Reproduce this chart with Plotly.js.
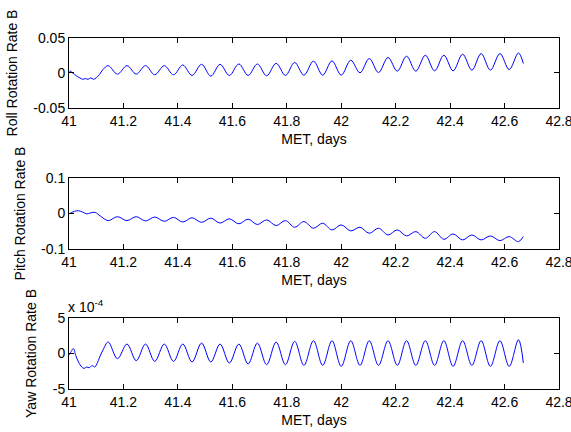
<!DOCTYPE html>
<html>
<head>
<meta charset="utf-8">
<script src="https://cdn.plot.ly/plotly-3.0.1.min.js"></script>
<style>html,body{margin:0;padding:0;background:#fff;}#chart{width:571px;height:432px;}</style>
</head>
<body>
<div id="chart"></div>
<script>
// ---- Data (MET in days) ----
const xTicks = [41, 41.2, 41.4, 41.6, 41.8, 42, 42.2, 42.4, 42.6, 42.8];
const xTickLabels = ['41', '41.2', '41.4', '41.6', '41.8', '42', '42.2', '42.4', '42.6', '42.8'];

const rollT = [41.000, 41.005, 41.010, 41.020, 41.030, 41.040, 41.050, 41.060, 41.070, 41.080, 41.090, 41.100, 41.112, 41.125,
  41.144, 41.178, 41.213, 41.247, 41.281, 41.315, 41.350, 41.384, 41.418, 41.452, 41.487, 41.521, 41.555, 41.589,
  41.624, 41.658, 41.692, 41.726, 41.761, 41.795, 41.829, 41.863, 41.898, 41.932, 41.966, 42.000, 42.035, 42.069,
  42.103, 42.137, 42.172, 42.206, 42.240, 42.274, 42.309, 42.343, 42.377, 42.411, 42.446, 42.480, 42.514, 42.548,
  42.583, 42.617, 42.651, 42.669];
const rollV = [0.000, 0.003, 0.001, -0.002, -0.005, -0.007, -0.009, -0.008, -0.009, -0.007, -0.009, -0.007, -0.002, 0.005,
  0.0105, -0.0016, 0.0105, -0.0016, 0.0105, -0.0026, 0.0105, -0.0026, 0.0114, -0.0035, 0.0124, -0.0045, 0.0124, -0.0035,
  0.0129, -0.0035, 0.0129, -0.0040, 0.0138, -0.0035, 0.0150, -0.0031, 0.0169, -0.0031, 0.0173, -0.0031, 0.0182, 0.0003,
  0.0207, 0.0007, 0.0221, 0.0026, 0.0240, 0.0026, 0.0254, 0.0031, 0.0254, 0.0031, 0.0268, 0.0041, 0.0277, 0.0041,
  0.0277, 0.0050, 0.0286, 0.0135];

const pitchT = [41.000, 41.010, 41.020, 41.034, 41.050, 41.065, 41.080, 41.096, 41.115,
  41.144, 41.178, 41.213, 41.247, 41.281, 41.315, 41.350, 41.384, 41.418, 41.452, 41.487, 41.521, 41.555, 41.589,
  41.624, 41.658, 41.692, 41.726, 41.761, 41.795, 41.829, 41.863, 41.898, 41.932, 41.966, 42.000, 42.035, 42.069,
  42.103, 42.137, 42.172, 42.206, 42.240, 42.274, 42.309, 42.343, 42.377, 42.411, 42.446, 42.480, 42.514, 42.548,
  42.583, 42.617, 42.651, 42.669];
const pitchV = [-0.001, 0.003, 0.006, 0.008, 0.004, -0.001, 0.002, 0.003, -0.007,
  -0.020, -0.009, -0.020, -0.009, -0.021, -0.010, -0.022, -0.011, -0.024, -0.012, -0.025, -0.013, -0.027, -0.015,
  -0.029, -0.016, -0.031, -0.018, -0.034, -0.020, -0.0387, -0.0227, -0.0415, -0.0274, -0.0463, -0.0321, -0.049, -0.0387,
  -0.0557, -0.0415, -0.0604, -0.0463, -0.0632, -0.051, -0.0698, -0.051, -0.0727, -0.0576, -0.0745, -0.0604, -0.0745, -0.0632,
  -0.0764, -0.0651, -0.0793, -0.065];

// Yaw values in units of 1e-4
const yawT = [41.000, 41.008, 41.016, 41.025, 41.035, 41.047, 41.055, 41.065, 41.075, 41.085, 41.095, 41.102, 41.114, 41.125,
  41.144, 41.178, 41.213, 41.247, 41.281, 41.315, 41.350, 41.384, 41.418, 41.452, 41.487, 41.521, 41.555, 41.589,
  41.624, 41.658, 41.692, 41.726, 41.761, 41.795, 41.829, 41.863, 41.898, 41.932, 41.966, 42.000, 42.035, 42.069,
  42.103, 42.137, 42.172, 42.206, 42.240, 42.274, 42.309, 42.343, 42.377, 42.411, 42.446, 42.480, 42.514, 42.548,
  42.583, 42.617, 42.651, 42.669];
const yawV = [-0.2, 0.3, 0.7, -0.3, -1.2, -1.9, -2.1, -1.9, -2.0, -1.7, -1.9, -1.5, -0.4, 0.5,
  1.62, -0.73, 1.33, -1.01, 1.33, -1.11, 1.33, -1.11, 1.33, -1.20, 1.47, -1.20, 1.33, -1.34,
  1.33, -1.48, 1.47, -1.58, 1.62, -1.58, 1.71, -1.67, 1.80, -1.67, 1.80, -1.81, 1.80, -1.67,
  1.80, -1.67, 1.80, -1.67, 1.80, -1.67, 1.80, -1.67, 1.80, -1.81, 1.80, -1.67, 1.80, -1.81,
  1.80, -1.81, 1.94, -1.34];

const yTitles = ['Roll Rotation Rate B', 'Pitch Rotation Rate B', 'Yaw Rotation Rate B'];
const rollTicks = [-0.05, 0, 0.05], rollLabels = ['-0.05', '0', '0.05'];
const pitchTicks = [-0.1, 0, 0.1], pitchLabels = ['-0.1', '0', '0.1'];
const yawTicks = [-5, 0, 5], yawLabels = ['-5', '0', '5'];

// ---- Plot ----
const FONT = {family: 'Liberation Sans, Arial, sans-serif', size: 14, color: '#000'};
const lineStyle = {color: '#0000ff', width: 1, shape: 'spline', smoothing: 1};

const traces = [
  {x: rollT, y: rollV, xaxis: 'x', yaxis: 'y', mode: 'lines', line: lineStyle, hoverinfo: 'none'},
  {x: pitchT, y: pitchV, xaxis: 'x2', yaxis: 'y2', mode: 'lines', line: lineStyle, hoverinfo: 'none'},
  {x: yawT, y: yawV, xaxis: 'x3', yaxis: 'y3', mode: 'lines', line: lineStyle, hoverinfo: 'none'}
];

function xa(anchor) {
  return {
    anchor: anchor, range: [40.99999, 42.80001], tickmode: 'array', tickvals: xTicks, ticktext: xTickLabels,
    ticks: 'inside', ticklen: 5, tickcolor: '#000', showline: true, linecolor: '#000', linewidth: 1,
    mirror: 'ticks', showgrid: false, zeroline: false, tickfont: FONT, ticklabeloverflow: 'allow',
    title: {text: 'MET, days', font: FONT, standoff: 6}
  };
}
function ya(anchor, dom, range, tv, tt, title) {
  return {
    anchor: anchor, domain: dom, range: range, tickmode: 'array', tickvals: tv, ticktext: tt,
    ticks: 'inside', ticklen: 5, tickcolor: '#000', showline: true, linecolor: '#000', linewidth: 1,
    mirror: 'ticks', showgrid: false, zeroline: false, tickfont: FONT, ticklabeloverflow: 'allow',
    title: {text: title, font: FONT, standoff: 12}
  };
}

const layout = {
  width: 571, height: 432,
  margin: {l: 69, r: 12, t: 38, b: 43},
  paper_bgcolor: '#fff', plot_bgcolor: '#fff',
  showlegend: false, font: FONT,
  xaxis: xa('y'), xaxis2: xa('y2'), xaxis3: xa('y3'),
  yaxis: ya('x', [0.8006, 1], [-0.05, 0.05], rollTicks, rollLabels, yTitles[0]),
  yaxis2: ya('x2', [0.3989, 0.6011], [-0.1, 0.1], pitchTicks, pitchLabels, yTitles[1]),
  yaxis3: ya('x3', [0, 0.2023], [-5, 5], yawTicks, yawLabels, yTitles[2]),
  annotations: [{
    text: 'x 10<sup>-4</sup>', xref: 'paper', yref: 'paper', x: 0, y: 0.2023,
    xanchor: 'left', yanchor: 'bottom', showarrow: false, font: FONT, yshift: 1, xshift: -3
  }]
};

Plotly.newPlot('chart', traces, layout, {staticPlot: true, displayModeBar: false});
</script>
</body>
</html>
